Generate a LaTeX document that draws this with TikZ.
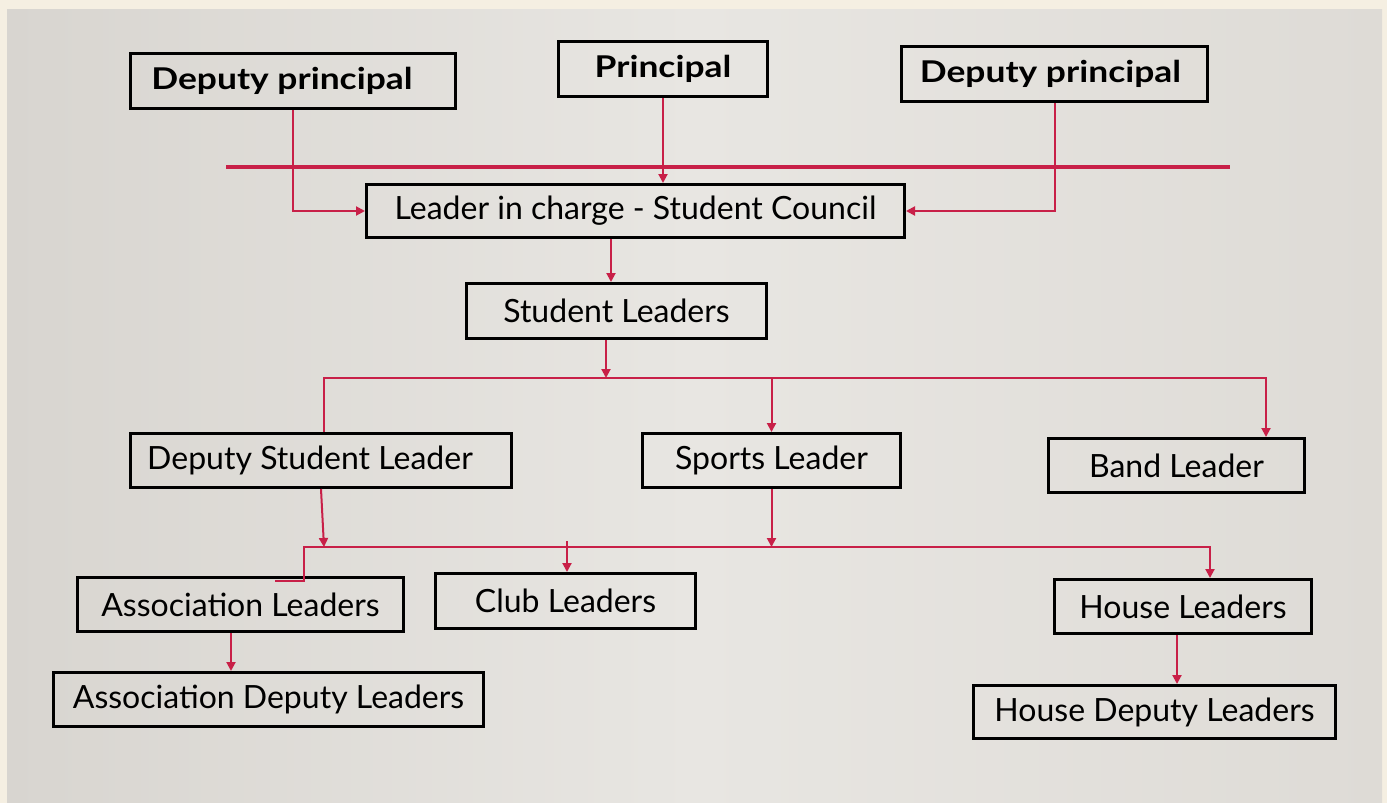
\documentclass[tikz,border=0pt]{standalone}
\usepackage{fontspec}
\setmainfont{Lato}
\newfontfamily\widebold[FakeStretch=1.18]{Lato Bold}
\usetikzlibrary{arrows.meta}
\definecolor{cream}{RGB}{245,239,226}
\definecolor{panelL}{RGB}{216,213,208}
\definecolor{panelM}{RGB}{232,230,226}
\definecolor{panelR}{RGB}{222,219,214}
\definecolor{linkred}{RGB}{200,32,72}
\tikzset{
  box/.style={draw=black, line width=3pt, rectangle, inner sep=0pt,
    font=\fontsize{32}{38}\selectfont},
  topbox/.style={box, font=\widebold\fontsize{30}{36}\selectfont},
  link/.style={draw=linkred, line width=2pt},
  arr/.style={link, -{Triangle[length=9pt,width=9pt]}},
  bar/.style={draw=linkred, line width=3.2pt}
}
\begin{document}
\begin{tikzpicture}[x=1pt,y=-1pt]
\fill[cream] (0,0) rectangle (1387,803);
\shade[left color=panelL, right color=panelR, middle color=panelM] (7,9) rectangle (1382,803);
\useasboundingbox (0,0) rectangle (1387,803);

% nodes
\node[topbox, minimum width=325pt, minimum height=55pt] (dpl) at (293,81) {Deputy principal\kern22pt\relax};
\node[topbox, minimum width=209pt, minimum height=55pt] (pr) at (663,69) {Principal};
\node[topbox, minimum width=306pt, minimum height=55pt] (dpr) at (1054.5,74) {Deputy principal\kern8pt\relax};
\node[box, minimum width=538pt, minimum height=53pt] (lic) at (635.5,211) {Leader in charge - Student Council};
\node[box, minimum width=300pt, minimum height=55pt] (sl) at (616.5,311) {Student Leaders};
\node[box, minimum width=381pt, minimum height=54pt] (dsl) at (321,460.5) {Deputy Student Leader\kern22pt\relax};
\node[box, minimum width=258pt, minimum height=54pt] (sp) at (771.5,460.5) {Sports Leader};
\node[box, minimum width=256pt, minimum height=54pt] (bl) at (1176.5,465.5) {Band Leader};
\node[box, minimum width=326pt, minimum height=54pt] (al) at (240.5,604.5) {Association Leaders};
\node[box, minimum width=260pt, minimum height=55pt] (cl) at (565.5,601) {Club Leaders};
\node[box, minimum width=257pt, minimum height=54pt] (hl) at (1183,606.5) {House Leaders};
\node[box, minimum width=430pt, minimum height=54pt] (adl) at (268.5,699.5) {Association Deputy Leaders};
\node[box, minimum width=362pt, minimum height=53pt] (hdl) at (1154.5,712) {House Deputy Leaders};

% coordinates
\coordinate (tl) at (226,167);
\coordinate (tr) at (1230,167);
\coordinate (b1L) at (324,378);
\coordinate (b1R) at (1266,378);
\coordinate (b2a) at (324,547);
\coordinate (jog) at (275,581);
\coordinate (b2L) at (304,547);
\coordinate (b2R) at (1210,547);
\coordinate (c1) at (567,541);

% top bar
\draw[bar] (tl) -- (tr);

% connectors top
\draw[arr] (dpl.south) |- (lic.west);
\draw[arr] (pr.south) -- (pr.south |- lic.north);
\draw[arr] (dpr.south) |- (lic.east);
\draw[arr] (611,0 |- lic.south) -- (611,0 |- sl.north);
\draw[arr] (606,0 |- sl.south) -- (606,0 |- b1L);

% bus 1
\draw[arr] (b1L |- dsl.north) -- (b1L) -- (b1R) -- (b1R |- bl.north);
\draw[arr] (sp.north |- b1L) -- (sp.north);

% bus 2
\draw[arr] (dsl.south) -- (b2a);
\draw[arr] (jog) -- (jog -| b2L) -- (b2L) -- (b2R) -- (b2R |- hl.north);
\draw[arr] (sp.south) -- (sp.south |- b2R);
\draw[arr] (c1) -- (c1 |- cl.north);

% lower
\draw[arr] (231,0 |- al.south) -- (231,0 |- adl.north);
\draw[arr] (1177,0 |- hl.south) -- (1177,0 |- hdl.north);
\end{tikzpicture}
\end{document}
